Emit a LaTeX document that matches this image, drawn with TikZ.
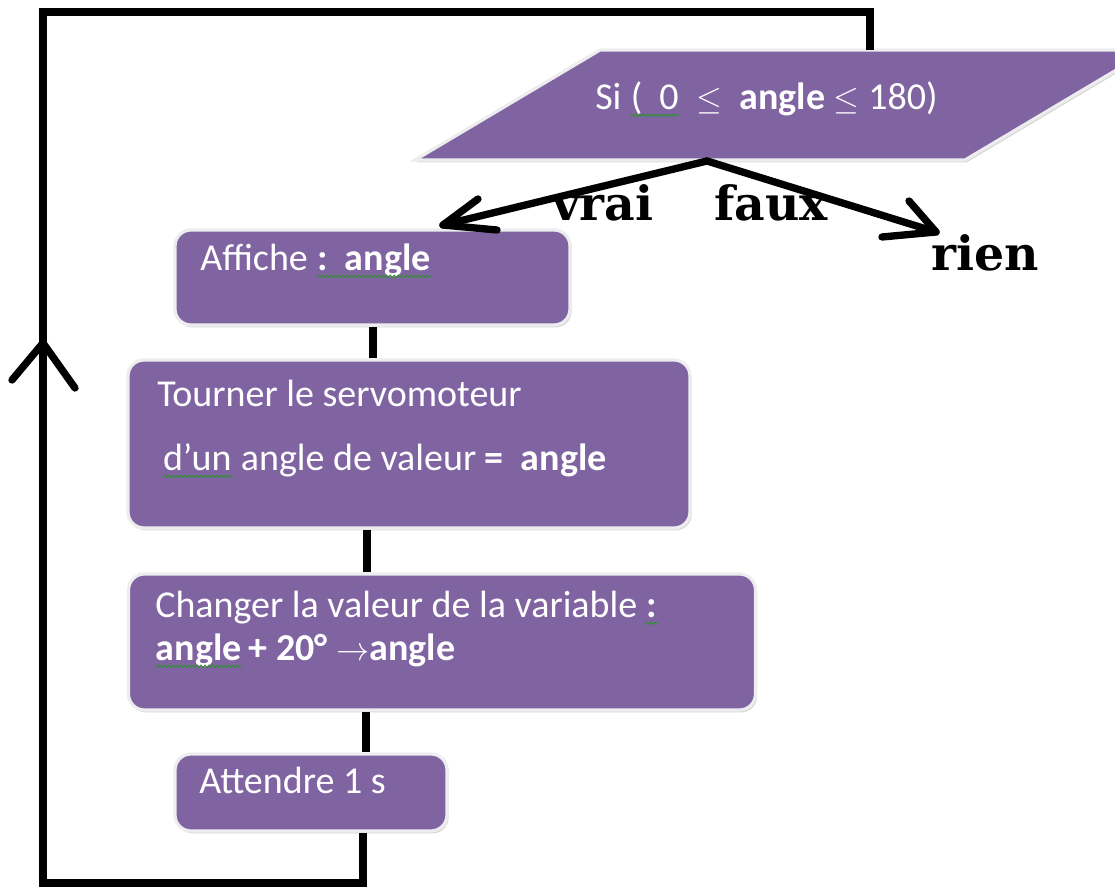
\documentclass[tikz,border=0pt]{standalone}
\usepackage{fontspec}
\setmainfont{Carlito}
\newfontfamily\slabfont{DejaVu Serif}
\usetikzlibrary{shadows,decorations.pathmorphing}
\definecolor{boxpurple}{HTML}{8064A2}
\definecolor{boxrim}{HTML}{EDEDF0}
\definecolor{spellgreen}{HTML}{2F8F2F}
\tikzset{
  softshadow/.style={drop shadow={shadow xshift=1.2pt, shadow yshift=-1.8pt, opacity=0.35, fill=black!45}},
  stepbox/.style={rectangle, rounded corners=12pt, fill=boxpurple, draw=boxrim, line width=2.4pt, inner sep=0pt, softshadow},
  condshape/.style={fill=boxpurple, draw=boxrim, line width=2.4pt, softshadow},
  boxtext/.style={anchor=base west, inner sep=0pt, text=white, font=\fontsize{28.5}{34}\selectfont},
  flow/.style={draw=black, line width=6pt},
  tiparm/.style={draw=black, line width=5.5pt, line cap=round, line join=round},
  verdict/.style={anchor=base west, inner sep=0pt, font=\slabfont\bfseries\fontsize{35.5}{40}\selectfont},
  squiggle/.style={draw=spellgreen, line width=0.7pt, decorate, decoration={snake, amplitude=0.9pt, segment length=3pt}},
}
% green wavy underline of a word processor's spell checker
\newcommand\spellmark[1]{\tikz[baseline=(sq.base)]{\node[inner sep=0pt, anchor=base, text=white] (sq) {#1};\draw[squiggle] ([yshift=-4pt]sq.base west) -- ([yshift=-4pt]sq.base east);}}
\begin{document}
\begin{tikzpicture}[x=0.75pt, y=-0.75pt]
\useasboundingbox (0,0) rectangle (1115,887);

% condition (parallelogram, runs past the right edge)
\path[condshape] (415,160) -- (600,50) -- (1150,50) -- (965,160) -- cycle;
\coordinate (fork) at (707,161);
\coordinate (condtop) at (870,50);
\node[boxtext] (cond) at (595,110) {Si \spellmark{(\ \ 0}\ \ $\leq$\ \ \textbf{angle} $\leq$ 180)};

% process steps
\node[stepbox, minimum width={395*0.75pt}, minimum height={95*0.75pt}] (aff) at (372.5,277.5) {};
\node[stepbox, minimum width={562*0.75pt}, minimum height={168*0.75pt}] (tour) at (409,444) {};
\node[stepbox, minimum width={627*0.75pt}, minimum height={136*0.75pt}] (chg) at (442,642) {};
\node[stepbox, minimum width={272*0.75pt}, minimum height={77*0.75pt}] (att) at (311,792.5) {};

\node[boxtext] (afft) at (200,271) {Affiche \spellmark{\textbf{:\ \ angle}}};
\node[boxtext] (tourt1) at (157,407) {Tourner le servomoteur};
\node[boxtext] (tourt2) at (162,471) {\spellmark{d’un} angle de valeur \textbf{=\ \ angle}};
\node[boxtext] (chgt1) at (155,618) {Changer la valeur de la variable \spellmark{\textbf{:}}};
\node[boxtext] (chgt2) at (155,661) {\spellmark{\textbf{angle}}\,\textbf{+ 20° $\rightarrow$angle}};
\node[boxtext] (attt) at (199,794) {Attendre 1 s};

% branch labels
\node[verdict] (vrai) at (552,221) {vrai};
\node[verdict] (faux) at (714,221) {faux};
\node[verdict] (rien) at (931,271) {rien};

% branch arrows
\coordinate (vtip) at (443,225);
\coordinate (vA) at (478,199);
\coordinate (vB) at (497,230);
\coordinate (ftip) at (936,232);
\coordinate (fA) at (909,201);
\coordinate (fB) at (882,237);
\draw[tiparm] (fork) -- (vtip);
\draw[tiparm] (vA) -- (vtip) -- (vB);
\draw[tiparm] (fork) -- (ftip);
\draw[tiparm] (fA) -- (ftip) -- (fB);

% links between steps
\coordinate (c1) at (373,0);
\coordinate (c2) at (367,0);
\coordinate (c3) at (366,0);
\coordinate (c4) at (363,0);
\draw[flow] (aff.south -| c1) -- (tour.north -| c1);
\draw[flow] (tour.south -| c2) -- (chg.north -| c2);
\draw[flow] (chg.south -| c3) -- (att.north -| c3);

% loop back to the condition
\coordinate (lb) at (363,883);
\coordinate (lbl) at (43,883);
\coordinate (ltl) at (43,12);
\coordinate (ltr) at (870,12);
\draw[flow] (att.south -| c4) -- (lb) -- (lbl) -- (ltl) -- (ltr) -- (condtop);
\coordinate (uptip) at (43,343);
\coordinate (upA) at (12,380);
\coordinate (upB) at (75,388);
\draw[tiparm] (upA) -- (uptip) -- (upB);
\end{tikzpicture}
\end{document}
